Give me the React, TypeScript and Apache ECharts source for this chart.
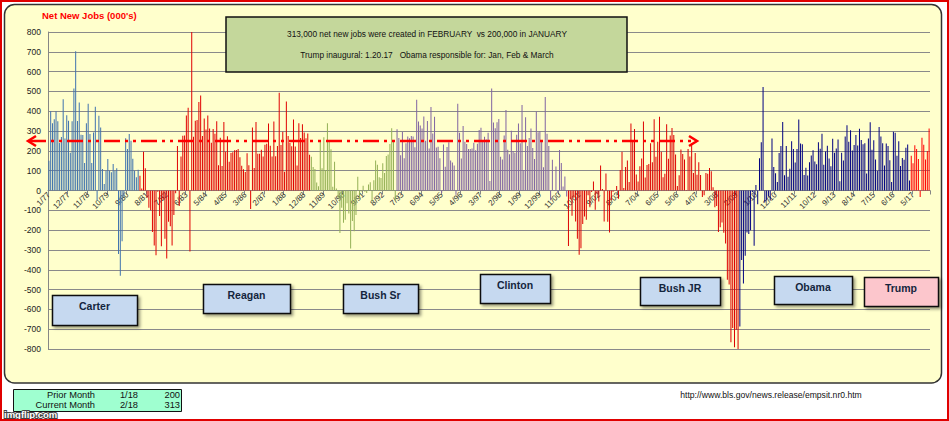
import React, { useEffect, useRef } from "react";
import * as echarts from "echarts";

// ---------- data (thousands of net new jobs, monthly, 1/77 .. 2/18) ----------
const START_YEAR = 1977;
const MONTH_COUNT = 494;
const categories: string[] = [];
for (let k = 0; k < MONTH_COUNT; k++) {
  const y = START_YEAR + Math.floor(k / 12);
  const m = (k % 12) + 1;
  categories.push(`${m}/${String(y % 100).padStart(2, "0")}`);
}

// Jan 77 - Mar 81
const carterJobs = [
  150, 400, 340, 360, 400, 350, 240, 270, 460, 263, 380, 352,
  190, 350, 515, 703, 351, 444, 281, 280, 139, 340, 438, 285,
  139, 293, 423, -50, 377, 318, 109, 33, 100, 159, 100, 92,
  134, 100, 112, -320, -430, -256, -30, 264, 209, 285, 251, 160,
  100, 67, 105,
];
// Apr 81 - Mar 89
const reaganJobs = [
  74, 10, 196, 112, -36, -87, -100, -209, -278,
  -327, -6, -129, -281, -45, -243, -343, -158, -181, -277, -124, -14,
  225, -78, 172, 276, 277, 378, 418, -308, 1114, 271, 352, 356,
  447, 479, 275, 363, 308, 379, 313, 241, 311, 286, 349, 128,
  266, 124, 346, 195, 274, 145, 189, 193, 203, 204, 209, 168,
  125, 107, 94, 188, 127, -94, 318, 114, 346, 186, 186, 206,
  172, 231, 236, 338, 226, 172, 348, 173, 224, 494, 230, 297,
  95, 449, 275, 240, 223, 358, 222, 126, 339, 265, 334, 293,
  264, 288, 180,
];
// Apr 89 - Mar 93
const bushSrJobs = [
  170, 118, 109, 41, 22, 253, 112, 269, 104,
  339, 247, 208, 19, 145, 10, -38, -214, -87, -163, -148, -64,
  -116, -293, -154, -206, -124, 70, -44, -5, 24, -6, -12, 30,
  42, -56, 52, 151, 130, 67, 63, 137, 88, 174, 182, 235,
  314, 253, -49,
];
// Apr 93 - Mar 01
const clintonJobs = [
  309, 265, 178, 295, 163, 238, 273, 264, 275,
  272, 218, 458, 348, 328, 313, 373, 251, 351, 212, 422, 288,
  372, 217, 221, 163, -13, 232, 120, 219, 243, 152, 141, 126,
  -21, 438, 291, 162, 326, 246, 235, 209, 209, 212, 241, 203,
  236, 305, 317, 250, 271, 258, 291, 48, 515, 343, 314, 344,
  361, 170, 157, 278, 406, 206, 183, 302, 199, 190, 281, 338,
  238, 432, 104, 370, 225, 265, 313, 215, 159, 399, 294, 300,
  249, 117, 472, 286, 225, -49, 155, -1, 121, -10, 204, 139,
  20, 71, -30,
];
// Apr 01 - Mar 09
const bushJrJobs = [
  -280, -44, -128, -36, -156, -243, -324, -292, -169,
  -131, -148, -24, -85, -7, 45, -97, -16, -55, 126, 8, -156,
  86, -158, -212, -49, -6, -1, 23, -42, 104, 195, 13, 118,
  152, 43, 338, 250, 310, 81, 46, 122, 161, 348, 65, 129,
  134, 239, 142, 360, 170, 246, 372, 196, 67, 84, 335, 160,
  277, 315, 280, 182, 23, 77, 207, 184, 157, 2, 210, 171,
  238, 88, 189, 79, 143, 78, -33, -24, 88, 84, 114, 97,
  17, -84, -78, -210, -186, -162, -213, -267, -450, -474, -766, -694,
  -791, -703, -823,
];
// Apr 09 - Mar 17
const obamaJobs = [
  -686, -351, -470, -329, -212, -219, -200, -7, -279,
  28, -69, 163, 243, 522, -60, -50, -30, -50, 262, 119, 87,
  43, 189, 225, 346, 77, 225, 69, 110, 248, 209, 141, 209,
  358, 237, 233, 78, 115, 76, 143, 177, 203, 146, 132, 244,
  211, 286, 130, 197, 226, 162, 122, 261, 190, 212, 258, 47,
  190, 151, 272, 329, 246, 304, 202, 230, 280, 227, 312, 255,
  234, 238, 86, 262, 344, 206, 254, 157, 100, 321, 272, 239,
  126, 237, 225, 153, 43, 297, 291, 176, 249, 124, 164, 155,
  216, 232, 50,
];
// Apr 17 - Feb 18
const trumpJobs = [175, 138, 228, 210, 159, -33, 266, 231, 156, 200, 313];

const presidentNames = ["Carter", "Reagan", "Bush Sr", "Clinton", "Bush JR", "Obama", "Trump"];
const presidentData = [carterJobs, reaganJobs, bushSrJobs, clintonJobs, bushJrJobs, obamaJobs, trumpJobs];
const presidentColors = ["#3F72AE", "#E00000", "#94B055", "#8064A2", "#DD0000", "#000080", "#FF0000"];

const yTicks = { min: -800, max: 800, interval: 100 };
const trendValue = 250;
const trendEndCategory = "4/07";

const headline1 = "313,000 net new jobs were created in FEBRUARY  vs 200,000 in JANUARY";
const headline2 = "Trump inaugural: 1.20.17   Obama responsible for: Jan, Feb & March";
const tableRows = [
  ["Prior Month", "1/18", "200"],
  ["Current Month", "2/18", "313"],
];
const sourceUrl = "http://www.bls.gov/news.release/empsit.nr0.htm";

// ---------- layout (styles / positions) ----------
const FONT = "'Liberation Sans', Arial, sans-serif";
const GRID = { left: 48, right: 19, top: 32, bottom: 72 };
const CHART_H = 421;
const boxLayout = [
  { x: 52, y: 295, w: 85, h: 30, fill: "#C6D9F0" },
  { x: 203, y: 284, w: 87, h: 29, fill: "#C6D9F0" },
  { x: 343, y: 284, w: 75, h: 29, fill: "#C6D9F0" },
  { x: 480, y: 274, w: 70, h: 29, fill: "#C6D9F0" },
  { x: 640, y: 277, w: 80, h: 28, fill: "#C6D9F0" },
  { x: 774, y: 276, w: 78, h: 28, fill: "#C6D9F0" },
  { x: 864, y: 277, w: 74, h: 29, fill: "#FCC6CC" },
];

export default function App() {
  const ref = useRef<HTMLDivElement>(null);

  useEffect(() => {
    document.body.style.margin = "0";
    if (!ref.current) return;
    const chart = echarts.init(ref.current, undefined, { renderer: "svg" });

    let offset = 0;
    const series = presidentData.map((arr, p) => {
      const full: (number | string)[] = new Array(MONTH_COUNT).fill("-");
      arr.forEach((v, k) => {
        full[offset + k] = v;
      });
      offset += arr.length;
      return {
        name: presidentNames[p],
        type: "bar",
        xAxisIndex: 0,
        yAxisIndex: 0,
        data: full,
        barWidth: 1,
        barGap: "-100%",
        itemStyle: { color: presidentColors[p] },
        clip: true,
        z: 3,
      };
    });

    // zero line position of the value axis (for the category-label axis grid)
    const plotH = CHART_H - GRID.top - GRID.bottom;
    const zeroY = GRID.top + (yTicks.max / (yTicks.max - yTicks.min)) * plotH;

    const staticGraphics: any[] = [
      {
        id: "panel",
        type: "rect",
        z: -10,
        shape: { x: 4.5, y: 4.5, width: 937, height: 378.5, r: 10 },
        style: { fill: "#FFFFCC", stroke: "#333", lineWidth: 1.5 },
      },
      {
        id: "border",
        type: "rect",
        z: 200,
        shape: { x: 1, y: 1, width: 947, height: 419 },
        style: { fill: "none", stroke: "#E00000", lineWidth: 2 },
      },
      {
        id: "title",
        type: "text",
        z: 100,
        style: {
          text: "Net New Jobs (000's)",
          x: 42,
          y: 15,
          fill: "#FF0000",
          font: `bold 9.5px ${FONT}`,
          textAlign: "left",
          textVerticalAlign: "middle",
        },
      },
      {
        id: "headbox",
        type: "rect",
        z: 100,
        shape: { x: 226, y: 17, width: 401, height: 55 },
        style: { fill: "#C4D79B", stroke: "#111", lineWidth: 1.5 },
      },
      {
        id: "head1",
        type: "text",
        z: 101,
        style: {
          text: headline1,
          x: 427,
          y: 34,
          fill: "#111",
          font: `8.3px ${FONT}`,
          textAlign: "center",
          textVerticalAlign: "middle",
        },
      },
      {
        id: "head2",
        type: "text",
        z: 101,
        style: {
          text: headline2,
          x: 427,
          y: 55,
          fill: "#111",
          font: `8.3px ${FONT}`,
          textAlign: "center",
          textVerticalAlign: "middle",
        },
      },
      {
        id: "table",
        type: "rect",
        z: 100,
        shape: { x: 13.5, y: 389.5, width: 168, height: 22 },
        style: { fill: "#9FFFD0", stroke: "#111", lineWidth: 1 },
      },
      {
        id: "url",
        type: "text",
        z: 100,
        style: {
          text: sourceUrl,
          x: 771,
          y: 395,
          fill: "#111",
          font: `8.6px ${FONT}`,
          textAlign: "center",
          textVerticalAlign: "middle",
        },
      },
      {
        id: "watermark",
        type: "text",
        z: 150,
        style: {
          text: "imgflip.com",
          x: 4,
          y: 414,
          fill: "#fff",
          stroke: "#444",
          lineWidth: 2,
          font: `bold 9.5px ${FONT}`,
          textAlign: "left",
          textVerticalAlign: "middle",
        },
      },
    ];

    const colRight = [95, 138, 180];
    tableRows.forEach((row, r) => {
      row.forEach((cell, c) => {
        staticGraphics.push({
          id: `cell${r}${c}`,
          type: "text",
          z: 101,
          style: {
            text: cell,
            x: colRight[c],
            y: 394.5 + r * 10.3,
            fill: "#111",
            font: `9.3px ${FONT}`,
            textAlign: "right",
            textVerticalAlign: "middle",
          },
        });
      });
    });

    boxLayout.forEach((b, p) => {
      staticGraphics.push({
        id: `pbox${p}`,
        type: "rect",
        z: 100,
        shape: { x: b.x + 0.5, y: b.y + 0.5, width: b.w, height: b.h },
        style: {
          fill: b.fill,
          stroke: "#111",
          lineWidth: 1.5,
          shadowBlur: 3,
          shadowOffsetX: 2,
          shadowOffsetY: 2,
          shadowColor: "rgba(0,0,0,0.4)",
        },
      });
      staticGraphics.push({
        id: `ptext${p}`,
        type: "text",
        z: 101,
        style: {
          text: presidentNames[p],
          x: b.x + b.w / 2,
          y: b.y + 10.5,
          fill: "#14253D",
          font: `bold 10.5px ${FONT}`,
          textAlign: "center",
          textVerticalAlign: "middle",
        },
      });
    });

    chart.setOption({
      animation: false,
      backgroundColor: "#FFFFFF",
      grid: [
        { ...GRID, containLabel: false },
        { left: GRID.left, right: GRID.right, top: GRID.top, bottom: CHART_H - zeroY, containLabel: false },
      ],
      xAxis: [
        {
          type: "category",
          gridIndex: 0,
          data: categories,
          boundaryGap: true,
          axisLine: { show: false },
          axisTick: { show: false },
          axisLabel: { show: false },
          splitLine: { show: false },
        },
        {
          type: "category",
          gridIndex: 1,
          data: categories,
          boundaryGap: true,
          position: "bottom",
          axisLine: { show: true, onZero: false, lineStyle: { color: "#868686", width: 1 } },
          axisTick: { show: true, interval: 10, length: 4, lineStyle: { color: "#868686" } },
          axisLabel: {
            interval: 10,
            rotate: 45,
            fontSize: 8,
            fontFamily: FONT,
            color: "#333",
            margin: 3,
          },
          splitLine: { show: false },
        },
      ],
      yAxis: [
        {
          type: "value",
          gridIndex: 0,
          min: yTicks.min,
          max: yTicks.max,
          interval: yTicks.interval,
          axisLine: { show: true, lineStyle: { color: "#868686" } },
          axisTick: { show: false },
          axisLabel: { fontSize: 8.5, fontFamily: FONT, color: "#222", margin: 7 },
          splitLine: { show: true, lineStyle: { color: "#8A8A8A", width: 1 } },
        },
        {
          type: "value",
          gridIndex: 1,
          min: 0,
          max: 1,
          show: false,
        },
      ],
      series,
      graphic: { elements: staticGraphics },
    });

    const yTrend = chart.convertToPixel({ yAxisIndex: 0 }, trendValue) as number;
    const xEnd = chart.convertToPixel({ xAxisIndex: 0 }, trendEndCategory) as number;
    const xStart = 28;
    const arrowGraphics = [
      {
        id: "trend",
        type: "polyline",
        z: 50,
        shape: { points: [[xStart + 2, yTrend], [xEnd - 2, yTrend]] },
        style: { stroke: "#FF0000", lineWidth: 2.5, lineDash: [16, 5, 3, 5, 3, 5], fill: "none" },
      },
      {
        id: "arrowL",
        type: "polyline",
        z: 50,
        shape: { points: [[xStart + 8, yTrend - 5], [xStart, yTrend], [xStart + 8, yTrend + 5]] },
        style: { stroke: "#FF0000", lineWidth: 2.5, fill: "none" },
      },
      {
        id: "arrowR",
        type: "polyline",
        z: 50,
        shape: { points: [[xEnd - 8, yTrend - 5], [xEnd, yTrend], [xEnd - 8, yTrend + 5]] },
        style: { stroke: "#FF0000", lineWidth: 2.5, fill: "none" },
      },
    ];
    chart.setOption({ graphic: { elements: [...staticGraphics, ...arrowGraphics] } });

    return () => chart.dispose();
  }, []);

  return <div ref={ref} style={{ width: 949, height: 421 }} />;
}
